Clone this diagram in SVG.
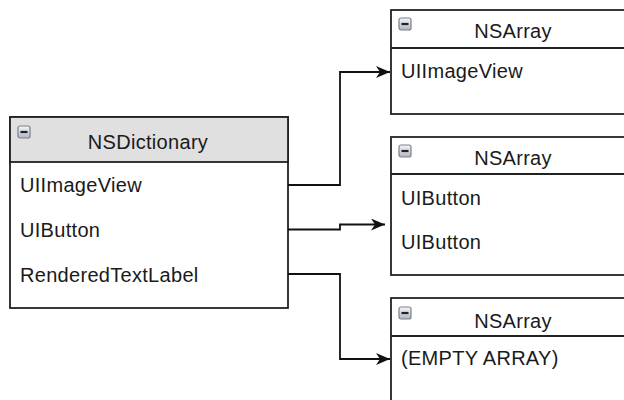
<svg xmlns="http://www.w3.org/2000/svg" width="624" height="400" viewBox="0 0 624 400">
  <style>
    .box { fill: #ffffff; stroke: #222222; stroke-width: 1.8; }
    .hdr { fill: #e0e0e0; stroke: #222222; stroke-width: 1.8; }
    .sep { stroke: #222222; stroke-width: 1.8; }
    .t { font-family: "Liberation Sans", Arial, sans-serif; font-size: 20px; letter-spacing: 0.3px; fill: #1a1a1a; }
    .title { text-anchor: middle; }
    .wire { fill: none; stroke: #111111; stroke-width: 1.8; }
    .icon { fill: url(#iconGrad); stroke: #7a828c; stroke-width: 1.2; }
    .dash { stroke: #222222; stroke-width: 2.2; }
  </style>
  <defs>
    <linearGradient id="iconGrad" x1="0" y1="0" x2="0" y2="1">
      <stop offset="0" stop-color="#f4f6f8"/>
      <stop offset="1" stop-color="#aeb6c0"/>
    </linearGradient>
    <marker id="arrow" viewBox="0 0 14 12" refX="14" refY="6" markerWidth="14" markerHeight="12" markerUnits="userSpaceOnUse" orient="auto">
      <path d="M0,0 L14,6 L0,12 L4,6 Z" fill="#111111"/>
    </marker>
    <g id="collapse">
      <rect class="icon" x="0" y="0" width="12" height="12" rx="2"/>
      <line class="dash" x1="2.5" y1="6" x2="9.5" y2="6"/>
    </g>
  </defs>

  <!-- dictionary -->
  <g id="nsdictionary">
    <rect class="box" x="10" y="117" width="278" height="191"/>
    <rect class="hdr" x="10" y="117" width="278" height="45"/>
    <use href="#collapse" x="18" y="126"/>
    <text class="t title" x="148" y="149">NSDictionary</text>
    <text class="t" x="20" y="192">UIImageView</text>
    <text class="t" x="20" y="237">UIButton</text>
    <text class="t" x="20" y="282">RenderedTextLabel</text>
  </g>

  <!-- arrays -->
  <g id="array-imageview">
    <rect class="box" x="391" y="10" width="260" height="104"/>
    <line class="sep" x1="391" y1="48" x2="630" y2="48"/>
    <use href="#collapse" x="399" y="18"/>
    <text class="t title" x="513" y="38">NSArray</text>
    <text class="t" x="401" y="78">UIImageView</text>
  </g>

  <g id="array-button">
    <rect class="box" x="391" y="137" width="260" height="138"/>
    <line class="sep" x1="391" y1="174" x2="630" y2="174"/>
    <use href="#collapse" x="399" y="145"/>
    <text class="t title" x="513" y="165">NSArray</text>
    <text class="t" x="401" y="205">UIButton</text>
    <text class="t" x="401" y="249">UIButton</text>
  </g>

  <g id="array-empty">
    <rect class="box" x="391" y="298" width="260" height="120"/>
    <line class="sep" x1="391" y1="336" x2="630" y2="336"/>
    <use href="#collapse" x="399" y="307"/>
    <text class="t title" x="513" y="328">NSArray</text>
    <text class="t" x="401" y="365">(EMPTY ARRAY)</text>
  </g>

  <!-- connectors -->
  <g id="connectors">
    <path class="wire" d="M288,185 H340 V72 H390" marker-end="url(#arrow)"/>
    <path class="wire" d="M288,229.5 H340 V224.5 H385" marker-end="url(#arrow)"/>
    <path class="wire" d="M288,274 H340 V359 H390" marker-end="url(#arrow)"/>
  </g>
</svg>
